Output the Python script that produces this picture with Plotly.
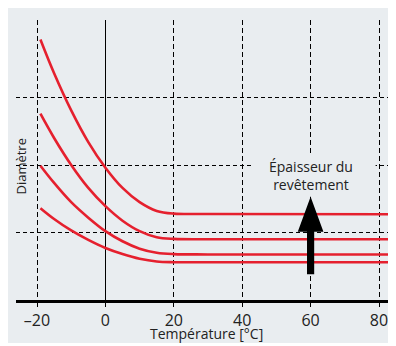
import plotly.graph_objects as go

temps = [-19, -15, -10, -5, 0, 5, 10, 15, 20, 30, 85]
curve1 = [3.86, 3.36, 2.81, 2.34, 1.96, 1.66, 1.45, 1.32, 1.28, 1.275, 1.27]
curve2 = [2.76, 2.40, 2.00, 1.66, 1.39, 1.175, 1.02, 0.93, 0.905, 0.90, 0.90]
curve3 = [1.99, 1.735, 1.45, 1.22, 1.02, 0.87, 0.76, 0.70, 0.68, 0.675, 0.675]
curve4 = [1.36, 1.20, 1.03, 0.89, 0.77, 0.68, 0.61, 0.57, 0.56, 0.56, 0.56]
series = [curve1, curve2, curve3, curve4]

xtick_vals = [-20, 0, 20, 40, 60, 80]
xtick_text = ["–20", "0", "20", "40", "60", "80"]
ygrid_vals = [1, 2, 3]

x_title = "Température [°C]"
y_title = "Diamètre"
note_text = "Épaisseur du<br>revêtement"

# arrow (annotation) parameters in data units
arrow_x = 60
arrow_bottom = 0.38
arrow_head_base = 1.01
arrow_tip = 1.53
shaft_half = 1.05
head_half = 3.75

PANEL = "#e9edf0"
RED = "#e5202e"
FONT = "Open Sans"

fig = go.Figure()
for s in series:
    fig.add_trace(go.Scatter(x=temps, y=s, mode="lines",
                             line=dict(color=RED, width=2.6, shape="spline", smoothing=1.0),
                             hoverinfo="skip", showlegend=False))

# box masking gridlines behind label
fig.add_shape(type="rect", xref="x", yref="y", x0=43.2, x1=79.0, y0=1.53, y1=2.15,
              fillcolor=PANEL, line=dict(width=0), layer="between")
# arrow
ax = arrow_x
path = (f"M {ax-shaft_half},{arrow_bottom} L {ax-shaft_half},{arrow_head_base} "
        f"L {ax-head_half},{arrow_head_base} L {ax},{arrow_tip} L {ax+head_half},{arrow_head_base} "
        f"L {ax+shaft_half},{arrow_head_base} L {ax+shaft_half},{arrow_bottom} Z")
fig.add_shape(type="path", path=path, xref="x", yref="y", fillcolor="black",
              line=dict(width=0), layer="above")

fig.add_annotation(x=arrow_x, y=1.84, xref="x", yref="y", text=note_text, showarrow=False,
                   font=dict(family=FONT, size=14, color="#222"), align="center")
fig.add_annotation(x=0.013, y=0.48, xref="paper", yref="paper", text=y_title, showarrow=False,
                   textangle=-90, xanchor="center", yanchor="middle",
                   font=dict(family=FONT, size=13, color="#222"))
fig.add_annotation(x=0.5, y=-0.118, xref="paper", yref="paper", text=x_title, showarrow=False,
                   xanchor="center", yanchor="middle",
                   font=dict(family=FONT, size=14, color="#222"))

fig.update_xaxes(range=[-26.14, 84.97], tickvals=xtick_vals, ticktext=xtick_text,
                 showgrid=True, gridcolor="black", gridwidth=1, griddash="5px,3px",
                 zeroline=True, zerolinecolor="black", zerolinewidth=1,
                 showline=True, linecolor="black", linewidth=3,
                 ticks="outside", ticklen=4, tickcolor="black", tickwidth=1,
                 tickfont=dict(family=FONT, size=16, color="#222"))
fig.update_yaxes(range=[0, 280 / 67.5], tickvals=ygrid_vals, showticklabels=False,
                 showgrid=True, gridcolor="black", gridwidth=1, griddash="4px,3px",
                 zeroline=False, showline=False, ticks="")

fig.update_layout(width=388, height=335, margin=dict(l=8, r=0, t=12, b=43, autoexpand=False),
                  paper_bgcolor=PANEL, plot_bgcolor=PANEL, showlegend=False,
                  font=dict(family=FONT))

fig.write_html("out.html")
